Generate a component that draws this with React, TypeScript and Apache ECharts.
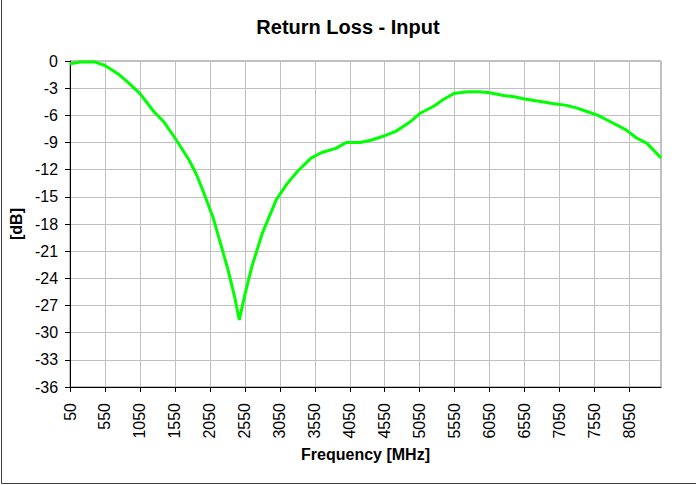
import React, { useEffect, useRef } from "react";
import * as echarts from "echarts";

const titleText = "Return Loss - Input";
const xAxisName = "Frequency [MHz]";
const yAxisName = "[dB]";

const freqMHz = [
  50, 200, 400, 550, 750, 900, 1050, 1250, 1400, 1550, 1750, 1850, 1950, 2100,
  2200, 2300, 2400, 2470, 2550, 2650, 2800, 3000, 3150, 3300, 3500, 3650, 3850,
  4000, 4200, 4350, 4550, 4700, 4900, 5050, 5250, 5400, 5550, 5750, 5900, 6050,
  6250, 6400, 6550, 6800, 6950, 7150, 7300, 7450, 7600, 7750, 8000, 8150, 8300,
  8500,
];
const returnLossDb = [
  -0.3, -0.1, -0.1, -0.5, -1.5, -2.5, -3.6, -5.6, -6.8, -8.5, -10.9, -12.4,
  -14.3, -17.4, -20.1, -22.8, -25.9, -28.6, -25.8, -22.7, -19.0, -15.3, -13.6,
  -12.2, -10.7, -10.1, -9.65, -9.0, -9.0, -8.75, -8.25, -7.8, -6.8, -5.8, -5.0,
  -4.2, -3.55, -3.4, -3.4, -3.5, -3.8, -3.95, -4.2, -4.5, -4.7, -4.9, -5.2,
  -5.6, -6.0, -6.6, -7.6, -8.5, -9.1, -10.7,
];

const FONT = 'Arial, "Liberation Sans", sans-serif';

export default function App() {
  const ref = useRef<HTMLDivElement>(null);
  useEffect(() => {
    if (!ref.current) return;
    const chart = echarts.init(ref.current, null, { renderer: "svg" });
    const data = freqMHz.map((f, i) => [f, returnLossDb[i]]);
    chart.setOption({
      animation: false,
      backgroundColor: "#ffffff",
      title: {
        text: titleText,
        left: "center",
        top: 12,
        textStyle: { fontFamily: FONT, fontSize: 20, fontWeight: "bold", color: "#000" },
      },
      grid: {
        left: 65,
        right: 35,
        top: 61,
        bottom: 98,
        show: true,
        borderColor: "#808080",
        borderWidth: 1,
        backgroundColor: "transparent",
      },
      xAxis: {
        type: "value",
        min: 50,
        max: 8500,
        interval: 500,
        name: xAxisName,
        nameLocation: "middle",
        nameGap: 57,
        nameTextStyle: { fontFamily: FONT, fontSize: 16, fontWeight: "bold", color: "#000" },
        axisLine: { show: true, onZero: false, lineStyle: { color: "#000", width: 1 } },
        axisTick: { show: true, length: 5, lineStyle: { color: "#000" } },
        axisLabel: {
          rotate: 90,
          margin: 16,
          padding: [0, 0, 7, 0],
          showMaxLabel: false,
          formatter: (v: number) => String(v),
          fontFamily: FONT,
          fontSize: 16,
          color: "#000",
        },
        splitLine: { show: true, lineStyle: { color: "#c0c0c0", width: 1 } },
      },
      yAxis: {
        type: "value",
        min: -36,
        max: 0,
        interval: 3,
        name: yAxisName,
        nameLocation: "middle",
        nameRotate: 90,
        nameGap: 45,
        nameTextStyle: { fontFamily: FONT, fontSize: 16, fontWeight: "bold", color: "#000" },
        axisLine: { show: true, onZero: false, lineStyle: { color: "#000", width: 1 } },
        axisTick: { show: true, length: 5, lineStyle: { color: "#000" } },
        axisLabel: { margin: 12, fontFamily: FONT, fontSize: 16, color: "#000" },
        splitLine: { show: true, lineStyle: { color: "#c0c0c0", width: 1 } },
      },
      series: [
        {
          type: "line",
          data,
          showSymbol: false,
          symbol: "none",
          smooth: false,
          lineStyle: { color: "#00ff00", width: 3 },
          itemStyle: { color: "#00ff00" },
          z: 5,
        },
      ],
      graphic: [
        {
          type: "rect",
          shape: { x: 1.5, y: -10, width: 720, height: 493.5 },
          style: { fill: "none", stroke: "#404040", lineWidth: 1 },
          silent: true,
        },
      ],
    });
    return () => chart.dispose();
  }, []);
  return (
    <div
      ref={ref}
      style={{ position: "fixed", left: 0, top: 0, width: 696, height: 485 }}
    />
  );
}
